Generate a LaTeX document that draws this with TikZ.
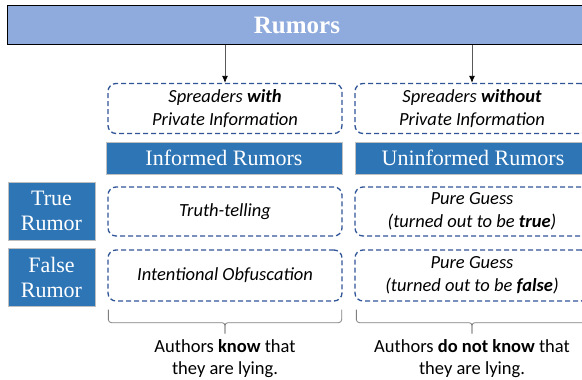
\documentclass[tikz,border=0pt]{standalone}
\usepackage{fontspec}
\setmainfont{Carlito}
\newfontfamily\timesfont{Liberation Serif}
\usetikzlibrary{positioning,arrows.meta}

\definecolor{barblue}{HTML}{8FAADC}
\definecolor{darkblue}{HTML}{2E75B6}
\definecolor{dashblue}{HTML}{2F5597}
\definecolor{bracegray}{HTML}{7F7F7F}

\begin{document}
\begin{tikzpicture}[x=1pt,y=1pt]
\tikzstyle{topbar}=[draw=black,line width=1pt,fill=barblue,minimum width=580pt,
minimum height=39pt,text=white,font=\timesfont\fontsize{25}{27}\selectfont\bfseries]
\tikzstyle{spreader}=[draw=dashblue,line width=1.3pt,dash pattern=on 5pt off 3pt,
rounded corners=8pt,minimum width=234pt,align=center,
font=\fontsize{18.5}{23}\selectfont\itshape]
\tikzstyle{kindbar}=[fill=darkblue,draw=gray!50,minimum width=236pt,
minimum height=32pt,text=white,font=\timesfont\fontsize{22}{24}\selectfont]
\tikzstyle{rowlabel}=[fill=darkblue,draw=gray!50,minimum width=87pt,
minimum height=58pt,text=white,align=center,inner sep=0pt,
font=\timesfont\fontsize{22}{25}\selectfont]
\tikzstyle{note}=[align=center,inner sep=0pt,font=\fontsize{18.5}{22}\selectfont]
\tikzstyle{bracket}=[draw=bracegray,line width=0.8pt,rounded corners=3pt]
\tikzstyle{feed}=[draw=gray!70!black,line width=0.8pt,-{Latex[length=7pt,width=6pt,color=black]}]

\path[use as bounding box,clip] (0,0) rectangle (582,-380);

%% Top bar
\node [topbar] (rumors) at (297,-25) {Rumors};

%% Spreaders
\node [spreader,minimum height=50pt] (spwith) at (225,-108.5)
    {Spreaders \textbf{with}\\Private Information};
\node [spreader,minimum height=50pt] (spwithout) at (472,-108.5)
    {Spreaders \textbf{without}\\Private Information};

\draw [feed] (rumors.south -| spwith.north) -- (spwith.north);
\draw [feed] (rumors.south -| spwithout.north) -- (spwithout.north);

%% Kinds of rumors
\node [kindbar] (informed) at (224,-158) {Informed Rumors};
\node [kindbar] (uninformed) at (473,-158) {Uninformed Rumors};

%% Rows
\node [rowlabel] (truerumor) at (51.5,-211) {True\\Rumor};
\node [spreader,minimum height=49pt] (truthtell) at (225,-211.5) {Truth-telling};
\node [spreader,minimum height=49pt] (guesstrue) at (472,-211.5)
    {Pure Guess\\(turned out to be \textbf{true})};

\node [rowlabel] (falserumor) at (51.5,-277.5) {False\\Rumor};
\node [spreader,minimum height=51pt] (obfusc) at (225,-275.5) {Intentional Obfuscation};
\node [spreader,minimum height=51pt] (guessfalse) at (472,-275.5)
    {Pure Guess\\(turned out to be \textbf{false})};

%% Brackets under the columns
\coordinate (knowmid) at ([yshift=-21pt]obfusc.south);
\coordinate (knowtip) at ([yshift=-32pt]obfusc.south);
\draw [bracket] ([xshift=1pt,yshift=-8pt]obfusc.south west) |- (knowmid) -- (knowtip);
\draw [bracket] ([xshift=-1pt,yshift=-8pt]obfusc.south east) |- (knowmid) -- (knowtip);
\node [note,below=6pt of knowtip] (knowtxt) {Authors \textbf{know} that\\they are lying.};

\coordinate (notknowmid) at ([yshift=-21pt]guessfalse.south);
\coordinate (notknowtip) at ([yshift=-32pt]guessfalse.south);
\draw [bracket] ([xshift=2pt,yshift=-8pt]guessfalse.south west) |- (notknowmid) -- (notknowtip);
\draw [bracket] ([xshift=-1pt,yshift=-8pt]guessfalse.south east) |- (notknowmid) -- (notknowtip);
\node [note,below=6pt of notknowtip] (notknowtxt) {Authors \textbf{do not know} that\\they are lying.};
\end{tikzpicture}
\end{document}
